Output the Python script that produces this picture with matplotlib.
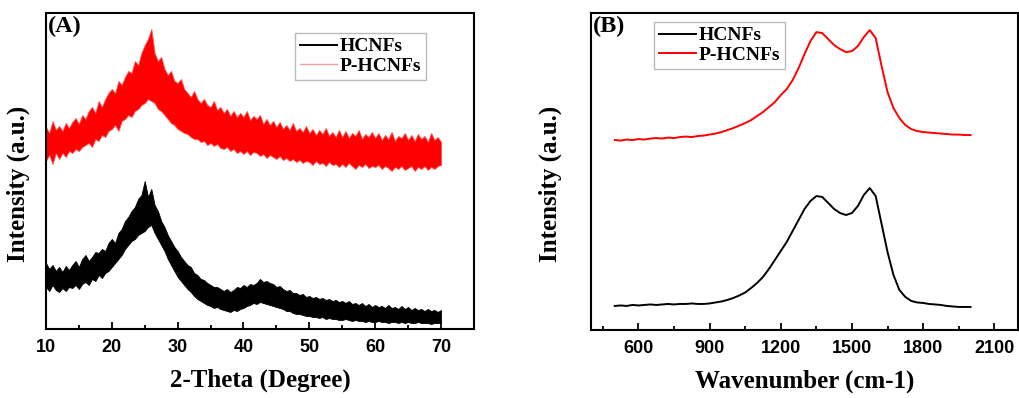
import numpy as np
import matplotlib.pyplot as plt
from matplotlib.ticker import MultipleLocator

# ---- XRD data (A): noise band bottom/top every 0.5 deg, 10..70 ----
two_theta = np.arange(10, 70.01, 0.5)

hcnf_xrd_lo = [42, 38, 44, 39, 37, 41, 38, 42, 41, 44,
               40, 45, 47, 44, 50, 48, 54, 51, 56, 58,
               62, 66, 70, 74, 80, 84, 88, 90, 94, 96,
               98, 102, 104, 96, 90, 84, 78, 70, 64, 58,
               52, 48, 44, 40, 37, 33, 30, 28, 26, 24,
               23, 21, 22, 20, 19, 18, 17, 19, 18, 20,
               21, 23, 24, 26, 25, 27, 26, 25, 24, 23,
               22, 21, 20, 18, 18, 16, 15, 15, 14, 13,
               13, 12, 12, 11, 12, 10, 11, 10, 10, 9,
               9, 10, 9, 8, 9, 8, 8, 7, 8, 7,
               7, 8, 7, 7, 6, 7, 7, 6, 7, 6,
               7, 6, 6, 7, 6, 6, 6, 5, 6, 6,
               6]
hcnf_xrd_hi = [66, 60, 64, 58, 62, 57, 63, 59, 64, 68,
               62, 70, 74, 68, 72, 77, 76, 80, 78, 86,
               90, 86, 96, 100, 108, 112, 118, 122, 130, 134,
               148, 132, 140, 124, 118, 108, 102, 94, 88, 82,
               78, 72, 68, 64, 62, 56, 54, 50, 49, 46,
               44, 42, 42, 40, 38, 40, 37, 39, 42, 41,
               44, 42, 45, 44, 46, 50, 47, 48, 46, 45,
               42, 43, 40, 38, 39, 36, 36, 34, 35, 32,
               33, 31, 32, 30, 31, 29, 30, 28, 29, 27,
               28, 26, 28, 25, 26, 24, 26, 23, 25, 22,
               24, 22, 23, 21, 24, 21, 22, 20, 23, 20,
               22, 19, 21, 19, 20, 18, 20, 18, 19, 17,
               19]
phcnf_xrd_lo = [168, 174, 165, 176, 170, 176, 172, 178, 176, 180,
                178, 182, 184, 186, 182, 190, 188, 194, 192, 198,
                200, 204, 198, 208, 210, 214, 212, 218, 220, 224,
                226, 230, 228, 226, 220, 218, 214, 210, 206, 204,
                200, 198, 196, 195, 192, 190, 190, 187, 188, 184,
                186, 183, 185, 181, 180, 182, 178, 180, 176, 178,
                175, 178, 174, 177, 176, 173, 175, 171, 174, 172,
                170, 173, 169, 171, 168, 170, 167, 169, 166, 168,
                167, 164, 168, 165, 166, 163, 167, 164, 165, 162,
                165, 162, 166, 163, 160, 164, 162, 165, 161, 163,
                162, 164, 160, 163, 161, 158, 162, 160, 163, 159,
                161, 163, 158, 162, 160, 163, 159, 162, 160, 163,
                164]
phcnf_xrd_hi = [202, 196, 208, 199, 203, 198, 206, 201, 207, 211,
                205, 214, 210, 218, 222, 216, 228, 222, 230, 236,
                240, 236, 248, 244, 252, 258, 256, 268, 264, 276,
                284, 290, 300, 276, 268, 272, 260, 254, 258, 248,
                246, 250, 240, 236, 232, 238, 230, 226, 230, 224,
                222, 228, 219, 222, 216, 220, 213, 218, 212, 216,
                212, 218, 209, 213, 210, 214, 205, 210, 204, 208,
                202, 207, 200, 204, 199, 206, 198, 201, 197, 203,
                196, 200, 194, 199, 195, 201, 193, 197, 192, 199,
                192, 198, 191, 196, 193, 199, 190, 195, 192, 197,
                191, 196, 189, 194, 190, 197, 188, 193, 191, 196,
                189, 194, 188, 195, 190, 193, 187, 196, 189, 192,
                187]

# ---- Raman data (B), every 25 cm-1, 500..2000 ----
wavenumber = np.arange(500, 2001, 25)
hcnf_raman = [24, 24.5, 24, 25, 24.5, 25, 25.5, 25, 25.5, 26,
              25.5, 26, 26, 26.5, 26, 26, 26.5, 27.5, 28.5, 30,
              32, 34.5, 37.5, 42, 47, 53, 61, 70, 79, 88,
              99, 110, 121, 129, 134, 133, 127, 121, 117, 115,
              117, 124, 135, 142, 134, 106, 78, 55, 40, 33,
              29, 27.5, 27, 26, 25.5, 25, 24, 23.5, 23, 23,
              23]
phcnf_raman = [190, 189.5, 190.5, 190, 191, 190.5, 191.5, 192, 191.5, 192.5,
               192, 193, 193.5, 193, 194, 194.5, 195.5, 196.5, 198, 200,
               202, 204.5, 207, 210, 214, 218, 223, 228, 235, 241,
               250, 262, 276, 289, 298, 297, 291, 285, 281, 278,
               279, 284, 293, 300, 292, 264, 238, 222, 212, 205,
               201, 199, 198, 197.5, 197, 196.5, 196, 195.5, 195.5, 195,
               195]

serif = 'Liberation Serif'
sans = 'Liberation Sans'
leg_font = {'family': serif, 'weight': 'bold', 'size': 14}

fig = plt.figure(figsize=(10.19, 3.98), dpi=100)
axA = fig.add_axes([0.0451, 0.1734, 0.420, 0.794])
axB = fig.add_axes([0.580, 0.171, 0.419, 0.796])

# noisy XRD traces drawn as their noise band
axA.fill_between(two_theta, hcnf_xrd_lo, hcnf_xrd_hi, color='black', lw=0.6)
axA.fill_between(two_theta, phcnf_xrd_lo, phcnf_xrd_hi, color='red',
                 ec='#ff5050', lw=0.6)
axA.plot([], [], color='black', lw=1.4, label='HCNFs')
axA.plot([], [], color='#f4a0a0', lw=1, label='P-HCNFs')
axA.set_xlim(10, 75)
axA.set_ylim(0, 316)
axA.set_xticks(np.arange(10, 71, 10))
axA.xaxis.set_minor_locator(MultipleLocator(5))
axA.set_xlabel('2-Theta (Degree)', fontfamily=serif, fontweight='bold',
               fontsize=18, labelpad=9)
axA.text(0.004, 0.99, '(A)', transform=axA.transAxes, fontfamily=serif,
         fontweight='bold', fontsize=17.5, va='top', ha='left')
axA.legend(loc='upper left', bbox_to_anchor=(0.582, 0.937), borderaxespad=0,
           prop=leg_font, fancybox=False, edgecolor='#aaaaaa',
           handlelength=1.9, handletextpad=0.15, borderpad=0.25,
           labelspacing=0.1)

axB.plot(wavenumber, hcnf_raman, color='black', lw=1.4, label='HCNFs')
axB.plot(wavenumber, phcnf_raman, color='red', lw=1.4, label='P-HCNFs')
axB.set_xlim(400, 2200)
axB.set_ylim(0, 317)
axB.set_xticks(np.arange(600, 2101, 300))
axB.xaxis.set_minor_locator(MultipleLocator(150))
axB.set_xlabel('Wavenumber (cm-1)', fontfamily=serif, fontweight='bold',
               fontsize=18, labelpad=9)
axB.text(0.004, 0.99, '(B)', transform=axB.transAxes, fontfamily=serif,
         fontweight='bold', fontsize=17.5, va='top', ha='left')
axB.legend(loc='upper left', bbox_to_anchor=(0.1475, 0.972), borderaxespad=0,
           prop=leg_font, fancybox=False, edgecolor='#aaaaaa',
           handlelength=1.9, handletextpad=0.15, borderpad=0.25,
           labelspacing=0.1)

for ax, lx in ((axA, -0.037), (axB, -0.068)):
    ax.set_ylabel('Intensity (a.u.)', fontfamily=serif, fontweight='bold',
                  fontsize=18)
    ax.yaxis.set_label_coords(lx, 0.46)
    ax.set_yticks([])
    ax.tick_params(axis='x', which='major', direction='in', length=5,
                   width=1.3, pad=7, labelsize=13)
    ax.tick_params(axis='x', which='minor', direction='in', length=3,
                   width=1.3)
    for lab in ax.get_xticklabels():
        lab.set_fontfamily(sans)
        lab.set_fontweight('bold')
    for s in ax.spines.values():
        s.set_linewidth(1.5)

fig.savefig('out.png', dpi=100)
